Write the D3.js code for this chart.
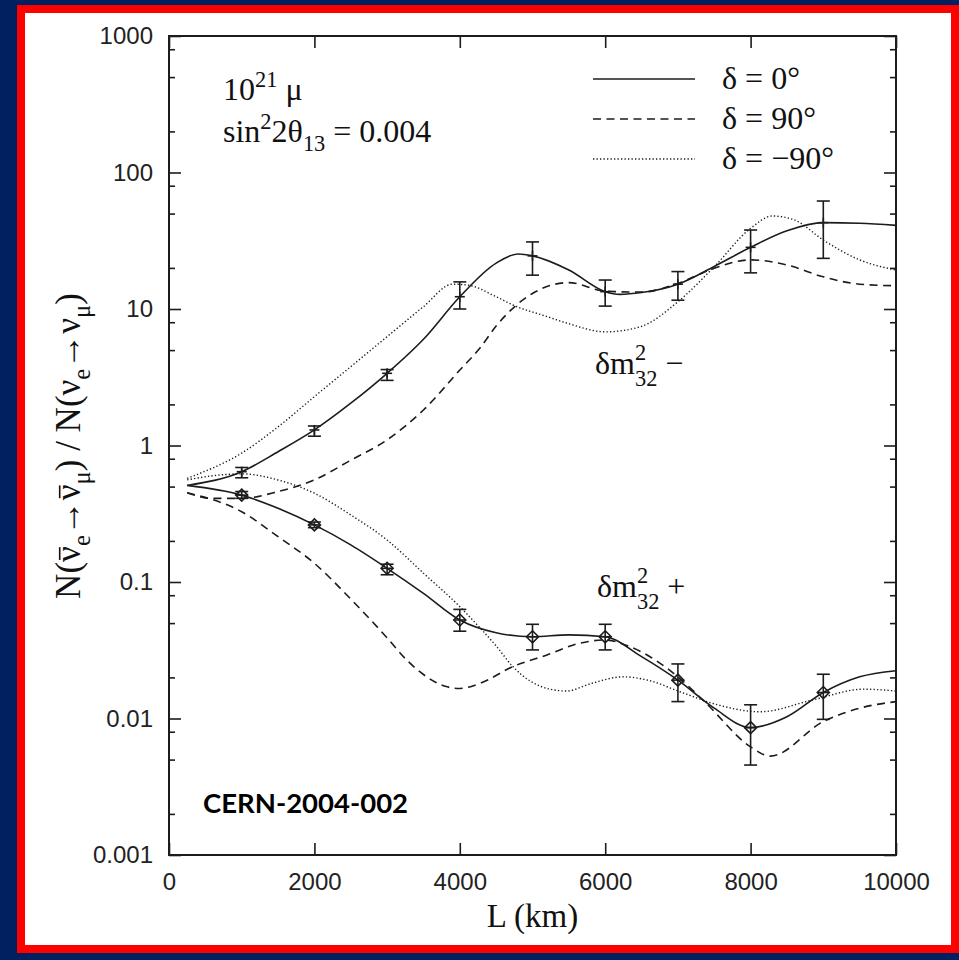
<!DOCTYPE html>
<html>
<head>
<meta charset="utf-8">
<script src="https://cdn.jsdelivr.net/npm/d3@7"></script>
<style>
  body { margin: 0; background: #002060; }
  svg { display: block; }
</style>
</head>
<body>
<svg id="chart" width="959" height="960"></svg>
<script>
// ---- Data: ratio N(anti-nu_e -> anti-nu_mu) / N(nu_e -> nu_mu) vs baseline L (km) ----
// delta m^2_32 negative branch (upper group)
const upSolidL  = [250, 1000, 1500, 2000, 2500, 3000, 3500, 4000, 4500, 4800, 5000, 5500, 6000, 6200, 6500, 7000, 7500, 8000, 8500, 9000, 9500, 10000];
const upSolidN  = [0.51, 0.643, 0.90, 1.30, 2.04, 3.38, 6.0, 12.3, 21.7, 25.3, 24.5, 19.3, 13.4, 12.8, 13.2, 15.2, 20.5, 28.3, 37.4, 42.9, 42.5, 41];
const upDashL   = [250, 600, 1000, 1500, 2000, 2500, 3000, 3500, 4000, 4280, 4500, 5000, 5500, 6000, 6500, 7000, 7500, 8000, 8500, 9000, 9500, 10000];
const upDashN   = [0.45, 0.41, 0.41, 0.46, 0.56, 0.78, 1.10, 1.82, 3.57, 5.2, 7.5, 13.0, 15.6, 13.5, 13.3, 15.4, 19.9, 22.9, 21.0, 17.2, 15.2, 14.8];
const upDotL    = [250, 1000, 1500, 2000, 2500, 3000, 3500, 3900, 4100, 4500, 4730, 5200, 5500, 6000, 6480, 7000, 7500, 8000, 8300, 8600, 9000, 9500, 10000];
const upDotN    = [0.575, 0.88, 1.37, 2.28, 3.78, 6.27, 10.4, 15.2, 15.0, 12.3, 10.7, 8.8, 7.8, 6.8, 7.4, 11.3, 20.4, 39, 48, 45, 32, 22.9, 19.3];

// delta m^2_32 positive branch (lower group)
const loSolidL  = [250, 1000, 1500, 2000, 2500, 3000, 3500, 4000, 4500, 5000, 5500, 6000, 6500, 7000, 7500, 8000, 8500, 9000, 9500, 10000];
const loSolidN  = [0.51, 0.433, 0.347, 0.262, 0.187, 0.126, 0.0826, 0.0527, 0.0425, 0.0397, 0.041, 0.0397, 0.0284, 0.0191, 0.0119, 0.00857, 0.0103, 0.0155, 0.0202, 0.0224];
const loDashL   = [250, 1000, 1500, 2000, 2500, 3000, 3270, 3500, 3800, 4000, 4280, 4730, 5200, 5650, 6000, 6340, 7000, 7390, 8000, 8270, 9000, 9500, 10000];
const loDashN   = [0.45, 0.327, 0.215, 0.137, 0.075, 0.039, 0.0268, 0.021, 0.0172, 0.0166, 0.0181, 0.024, 0.0292, 0.0356, 0.0376, 0.0336, 0.0202, 0.0129, 0.0062, 0.0053, 0.0095, 0.0119, 0.0133];
const loDotL    = [250, 600, 1000, 1500, 2000, 2500, 3000, 3500, 4000, 4280, 4500, 4730, 5200, 5470, 5800, 6250, 6600, 7030, 7500, 8130, 8860, 9550, 10000];
const loDotN    = [0.56, 0.60, 0.62, 0.559, 0.447, 0.310, 0.203, 0.116, 0.066, 0.046, 0.034, 0.024, 0.0166, 0.0159, 0.018, 0.0202, 0.019, 0.0157, 0.0128, 0.0112, 0.0137, 0.0164, 0.0159];

// Simulated measurements with statistical errors (delta = 0)
const pointL    = [1000, 2000, 3000, 4000, 5000, 6000, 7000, 8000, 9000];
const upPointN  = [0.643, 1.30, 3.38, 12.3, 24.5, 13.4, 15.2, 28.3, 42.9];
const upPointLo = [0.58, 1.17, 3.0, 10.0, 17.7, 10.5, 11.6, 18.4, 23.5];
const upPointHi = [0.69, 1.39, 3.6, 15.8, 31, 16.3, 18.8, 37.9, 61.8];
const loPointN  = [0.433, 0.262, 0.126, 0.0527, 0.0397, 0.0397, 0.0191, 0.00857, 0.0155];
const loPointLo = [0.41, 0.25, 0.113, 0.0436, 0.0318, 0.0318, 0.0133, 0.00456, 0.00986];
const loPointHi = [0.46, 0.275, 0.135, 0.063, 0.049, 0.049, 0.0251, 0.0126, 0.0211];

// Axis ticks
const xTicks = [0, 2000, 4000, 6000, 8000, 10000];
const yTicks = [0.001, 0.01, 0.1, 1, 10, 100, 1000];
const yTickLabels = ["0.001", "0.01", "0.1", "1", "10", "100", "1000"];
const yMinorMantissas = [2, 5, 8];

const legendLabels = ["δ = 0°", "δ = 90°", "δ = −90°"];

// ---- Layout ----
const svg = d3.select("#chart");
const W = 959, H = 960;
const plot = { left: 169, right: 896, top: 36, bottom: 855 };
const ink = "#1c1c1c";
const serif = "'Liberation Serif', 'Times New Roman', serif";
const sans = "'Liberation Sans', Arial, sans-serif";

// Slide frame: dark background, red border, white panel
svg.append("rect").attr("x", 0).attr("y", 0).attr("width", W).attr("height", H).attr("fill", "#002060");
svg.append("rect").attr("x", 17).attr("y", 5).attr("width", W - 17 + 10).attr("height", 948).attr("fill", "#ff0000");
svg.append("rect").attr("x", 25).attr("y", 13).attr("width", 926).attr("height", 932).attr("fill", "#ffffff");

const x = d3.scaleLinear().domain([0, 10000]).range([plot.left, plot.right]);
const y = d3.scaleLog().domain([0.001, 1000]).range([plot.bottom, plot.top]);

// ---- Axes ----
const yMinor = [];
for (let e = -3; e < 3; e++) yMinorMantissas.forEach(m => yMinor.push(m * Math.pow(10, e)));

function styleAxis(g) {
  g.select(".domain").remove();
  g.selectAll(".tick line").attr("stroke", ink).attr("stroke-width", 1.6);
  g.selectAll(".tick text").attr("fill", "#222").attr("font-family", sans).attr("font-size", 24);
}

svg.append("g").attr("transform", `translate(0,${plot.bottom})`)
  .call(d3.axisBottom(x).tickValues(xTicks).tickSize(-12).tickPadding(18).tickFormat(d3.format("d")))
  .call(styleAxis);
svg.append("g").attr("transform", `translate(0,${plot.top})`)
  .call(d3.axisTop(x).tickValues(xTicks).tickSize(-12).tickFormat(""))
  .call(styleAxis);

svg.append("g").attr("transform", `translate(${plot.left},0)`)
  .call(d3.axisLeft(y).tickValues(yTicks).tickSize(-12).tickPadding(16).tickFormat((d, i) => yTickLabels[i]))
  .call(styleAxis);
svg.append("g").attr("transform", `translate(${plot.left},0)`)
  .call(d3.axisLeft(y).tickValues(yMinor).tickSize(-6).tickFormat(""))
  .call(styleAxis);
svg.append("g").attr("transform", `translate(${plot.right},0)`)
  .call(d3.axisRight(y).tickValues(yTicks).tickSize(-12).tickFormat(""))
  .call(styleAxis);
svg.append("g").attr("transform", `translate(${plot.right},0)`)
  .call(d3.axisRight(y).tickValues(yMinor).tickSize(-6).tickFormat(""))
  .call(styleAxis);

// Plot frame
svg.append("rect")
  .attr("x", plot.left).attr("y", plot.top)
  .attr("width", plot.right - plot.left).attr("height", plot.bottom - plot.top)
  .attr("fill", "none").attr("stroke", ink).attr("stroke-width", 2);

// ---- Curves ----
const line = d3.line().x(d => x(d[0])).y(d => y(d[1])).curve(d3.curveMonotoneX);
const styles = {
  solid:  { dash: null,    width: 1.6 },
  dashed: { dash: "8,5.5", width: 1.6 },
  dotted: { dash: "1.3,2.2", width: 1.4 }
};
const curves = [
  [upSolidL, upSolidN, "solid"], [upDashL, upDashN, "dashed"], [upDotL, upDotN, "dotted"],
  [loSolidL, loSolidN, "solid"], [loDashL, loDashN, "dashed"], [loDotL, loDotN, "dotted"]
];
const curveG = svg.append("g").attr("fill", "none").attr("stroke", ink);
curves.forEach(([Ls, Ns, s]) => {
  curveG.append("path")
    .attr("d", line(Ls.map((L, i) => [L, Ns[i]])))
    .attr("stroke-width", styles[s].width)
    .attr("stroke-dasharray", styles[s].dash);
});

// ---- Data points with error bars ----
const cap = 6.5;
function errorBars(vals, lo, hi, marker) {
  const g = svg.append("g").attr("stroke", ink).attr("stroke-width", 1.6).attr("fill", "none");
  pointL.forEach((L, i) => {
    const px = x(L), py = y(vals[i]), y0 = y(lo[i]), y1 = y(hi[i]);
    g.append("line").attr("x1", px).attr("x2", px).attr("y1", y0).attr("y2", y1);
    g.append("line").attr("x1", px - cap).attr("x2", px + cap).attr("y1", y0).attr("y2", y0);
    g.append("line").attr("x1", px - cap).attr("x2", px + cap).attr("y1", y1).attr("y2", y1);
    if (marker === "plus") {
      g.append("line").attr("x1", px - 5).attr("x2", px + 5).attr("y1", py).attr("y2", py);
      g.append("line").attr("x1", px).attr("x2", px).attr("y1", py - 5).attr("y2", py + 5);
    } else {
      const r = 6;
      g.append("path").attr("d", `M${px},${py - r}L${px + r},${py}L${px},${py + r}L${px - r},${py}Z`);
      g.append("line").attr("x1", px - r).attr("x2", px + r).attr("y1", py).attr("y2", py);
    }
  });
}
errorBars(upPointN, upPointLo, upPointHi, "plus");
errorBars(loPointN, loPointLo, loPointHi, "diamond");

// ---- Legend ----
const legendY = [79, 119, 159];
const legendStyle = ["solid", "dashed", "dotted"];
const legend = svg.append("g");
legendLabels.forEach((t, i) => {
  legend.append("line")
    .attr("x1", 593).attr("x2", 695).attr("y1", legendY[i]).attr("y2", legendY[i])
    .attr("stroke", ink).attr("stroke-width", styles[legendStyle[i]].width)
    .attr("stroke-dasharray", styles[legendStyle[i]].dash);
  legend.append("text")
    .attr("x", 722).attr("y", legendY[i] + 10)
    .attr("font-family", serif).attr("font-size", 32).attr("fill", "#111")
    .text(t);
});

// ---- Annotations ----
// Text with superscripts/subscripts; a part flagged "stack" is pulled back
// under the preceding superscript (and set a little further apart from it).
function richText(parent, parts, size) {
  const t = parent.append("text")
    .attr("font-family", serif).attr("font-size", size).attr("fill", "#111");
  let shift = 0, lastSupWidth = 0;
  parts.forEach((p, i) => {
    const stacked = p.stack || (parts[i + 1] && parts[i + 1].stack);
    let target = 0;
    if (p.sup) target = -Math.round(size * (stacked ? 0.44 : 0.42));
    if (p.sub) target = Math.round(size * (stacked ? 0.38 : 0.28));
    const span = t.append("tspan")
      .attr("dy", target - shift)
      .attr("font-size", (p.sup || p.sub) ? size * 0.7 : size)
      .text(p.t);
    if (p.stack) span.attr("dx", -lastSupWidth);
    if (p.sup) lastSupWidth = span.node().getComputedTextLength();
    shift = target;
  });
  return t;
}

richText(svg.append("g").attr("transform", "translate(223,100)"),
  [{ t: "10" }, { t: "21", sup: true }, { t: " μ" }], 32);
richText(svg.append("g").attr("transform", "translate(223,142)"),
  [{ t: "sin" }, { t: "2", sup: true }, { t: "2θ" }, { t: "13", sub: true }, { t: " = 0.004" }], 32);

richText(svg.append("g").attr("transform", "translate(595,374)"),
  [{ t: "δm" }, { t: "2", sup: true }, { t: "32", sub: true, stack: true }, { t: "  −" }], 32);
richText(svg.append("g").attr("transform", "translate(597,597)"),
  [{ t: "δm" }, { t: "2", sup: true }, { t: "32", sub: true, stack: true }, { t: "  +" }], 32);

// y-axis title, with bars drawn over the antineutrino symbols
const yTitleG = svg.append("g").attr("transform", "translate(80,446) rotate(-90)");
const yTitle = richText(yTitleG, [
  { t: "N(ν" }, { t: "e", sub: true }, { t: "→ν" }, { t: "μ", sub: true },
  { t: ") / N(ν" }, { t: "e", sub: true }, { t: "→ν" }, { t: "μ", sub: true }, { t: ")" }
], 35).attr("text-anchor", "middle");
[2, 5].forEach(ci => {
  const node = yTitle.node();
  const s = node.getStartPositionOfChar(ci), e = node.getEndPositionOfChar(ci);
  yTitleG.append("line")
    .attr("x1", s.x + 2).attr("x2", e.x - 1)
    .attr("y1", s.y - 35 * 0.58).attr("y2", s.y - 35 * 0.58)
    .attr("stroke", "#111").attr("stroke-width", 1.6);
});

// x-axis title
svg.append("text")
  .attr("x", x(5000)).attr("y", 927).attr("text-anchor", "middle")
  .attr("font-family", serif).attr("font-size", 33).attr("fill", "#111")
  .text("L (km)");

// Report reference
svg.append("text")
  .attr("x", 203).attr("y", 813)
  .attr("font-family", "Lato, 'Open Sans', sans-serif").attr("font-weight", "bold")
  .attr("font-size", 27.5).attr("fill", "#000")
  .text("CERN-2004-002");
</script>
</body>
</html>
